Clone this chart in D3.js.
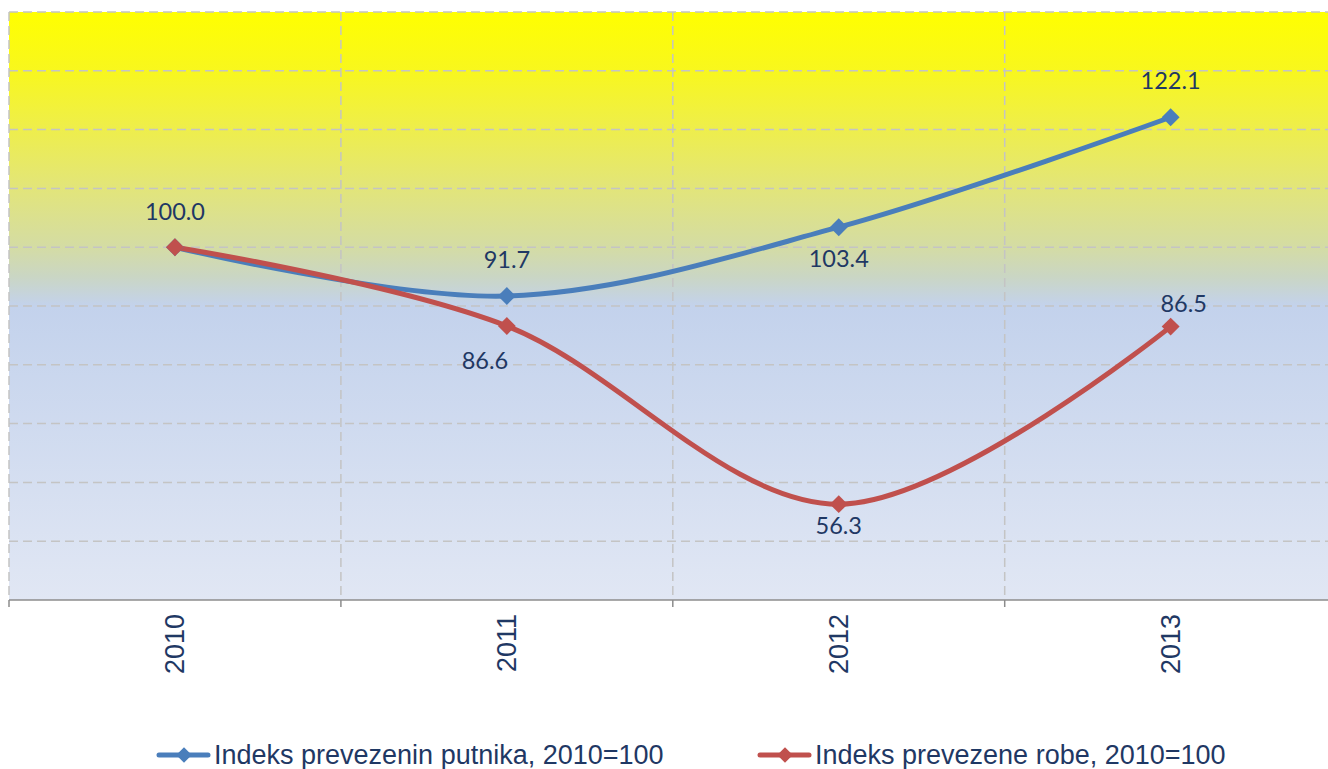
<!DOCTYPE html>
<html><head><meta charset="utf-8">
<script src="https://cdn.jsdelivr.net/npm/d3@7/dist/d3.min.js"></script>
<style>
html,body{margin:0;padding:0;background:#fff;overflow:hidden;}
svg{display:block;}
</style></head>
<body>
<svg id="chart" width="1328" height="769"></svg>
<script>
const categories = ["2010", "2011", "2012", "2013"];
const passengers = [100.0, 91.7, 103.4, 122.1];
const goods = [100.0, 86.6, 56.3, 86.5];
const seriesNames = ["Indeks prevezenin putnika, 2010=100", "Indeks prevezene robe, 2010=100"];
const yTicks = [40, 50, 60, 70, 80, 90, 100, 110, 120, 130, 140];

(function () {
const svg = d3.select("#chart");
const plotLeft = 9, plotTop = 12, plotBottom = 600;
const bandW = 331.9;
const x = d3.scaleBand().domain(categories).range([plotLeft, plotLeft + bandW * categories.length]).padding(0);
const y = d3.scaleLinear().domain([40, 140]).range([plotBottom, plotTop]);
const cx = d => x(d) + x.bandwidth() / 2;
const arial = "'Liberation Sans', Arial, sans-serif";

// gradient
const defs = svg.append("defs");
const grad = defs.append("linearGradient").attr("id", "bg").attr("x1", 0).attr("y1", 0).attr("x2", 0).attr("y2", 1);
[[0, "#FFFF00"], [0.1, "#F8F71E"], [0.2, "#EEEE4C"], [0.3, "#E2E57A"], [0.4, "#D4DCA4"], [0.45, "#CAD6C4"], [0.5, "#C3D2EC"], [1, "#E1E7F4"]]
  .forEach(([o, c]) => grad.append("stop").attr("offset", o).attr("stop-color", c));

svg.append("rect").attr("x", plotLeft).attr("y", plotTop).attr("width", x.range()[1] - plotLeft).attr("height", plotBottom - plotTop).attr("fill", "url(#bg)");

// horizontal grid
svg.append("g").selectAll("line").data(yTicks.filter(t => t > 40)).join("line")
  .attr("x1", plotLeft).attr("x2", x.range()[1])
  .attr("y1", d => y(d)).attr("y2", d => y(d))
  .attr("stroke", "#C4C4C4").attr("stroke-width", 1.5).attr("stroke-dasharray", "9,5");

// vertical grid at band boundaries
const bounds = categories.map(c => x(c));
svg.append("g").selectAll("line").data(bounds).join("line")
  .attr("x1", d => d).attr("x2", d => d).attr("y1", plotTop).attr("y2", plotBottom)
  .attr("stroke", "#C4C4C4").attr("stroke-width", 1.5).attr("stroke-dasharray", "9,5");

// x axis
const xAxis = svg.append("g").attr("transform", `translate(0,${plotBottom})`);
xAxis.append("line").attr("x1", plotLeft).attr("x2", x.range()[1]).attr("stroke", "#8C8C8C").attr("stroke-width", 1.5);
xAxis.selectAll("line.tick").data(bounds).join("line").attr("class", "tick")
  .attr("x1", d => d).attr("x2", d => d).attr("y1", 0).attr("y2", 7).attr("stroke", "#8C8C8C").attr("stroke-width", 1.5);
xAxis.selectAll("text").data(categories).join("text")
  .attr("transform", d => `translate(${cx(d) + 9},14) rotate(-90)`)
  .attr("text-anchor", "end")
  .attr("font-family", arial).attr("font-size", 27)
  .attr("fill", "#1F3864").text(d => d);

// lines
const line = d3.line().x((d, i) => cx(categories[i])).y(d => y(d)).curve(d3.curveCatmullRom.alpha(0));
const series = [
  {vals: passengers, color: "#4A7EBB"},
  {vals: goods, color: "#C0504D"}
];

series.forEach(s => {
  svg.append("path").datum(s.vals).attr("d", line).attr("fill", "none")
    .attr("stroke", s.color).attr("stroke-width", 5).attr("stroke-linecap", "round");
});
series.forEach(s => {
  svg.append("g").selectAll("path").data(s.vals).join("path")
    .attr("d", d3.symbol().type(d3.symbolSquare).size(160))
    .attr("transform", (d, i) => `translate(${cx(categories[i])},${y(d)}) rotate(45)`)
    .attr("fill", s.color);
});
// labels (label offsets relative to each point: [dx, dy])
const labelOffsets = [
  [[0, -27], [0, -28], [0, 40], [0, -28]],
  [null, [-22, 43], [0, 30], [13, -15]]
];
series.forEach((s, si) => {
  svg.append("g").selectAll("text")
    .data(s.vals.map((v, i) => ({v, i})).filter(o => labelOffsets[si][o.i]))
    .join("text")
    .attr("x", o => cx(categories[o.i]) + labelOffsets[si][o.i][0])
    .attr("y", o => y(o.v) + labelOffsets[si][o.i][1])
    .attr("text-anchor", "middle")
    .attr("font-family", "Lato, 'Open Sans', sans-serif").attr("font-size", 23.5)
    .attr("fill", "#1F3864").text(o => o.v.toFixed(1));
});

// legend
const legend = svg.append("g").attr("transform", "translate(0,755)");
const legX = [157, 758];
seriesNames.forEach((name, i) => {
  const g = legend.append("g").attr("transform", `translate(${legX[i]},0)`);
  g.append("line").attr("x1", 2).attr("x2", 51).attr("y1", 0).attr("y2", 0)
    .attr("stroke", series[i].color).attr("stroke-width", 5).attr("stroke-linecap", "round");
  g.append("path").attr("d", d3.symbol().type(d3.symbolSquare).size(120)).attr("transform", "translate(27,0) rotate(45)").attr("fill", series[i].color);
  g.append("text").attr("x", 57).attr("y", 9).attr("font-family", arial)
    .attr("font-size", 27).attr("fill", "#1F3864").text(name);
});
})();
</script>
</body></html>
